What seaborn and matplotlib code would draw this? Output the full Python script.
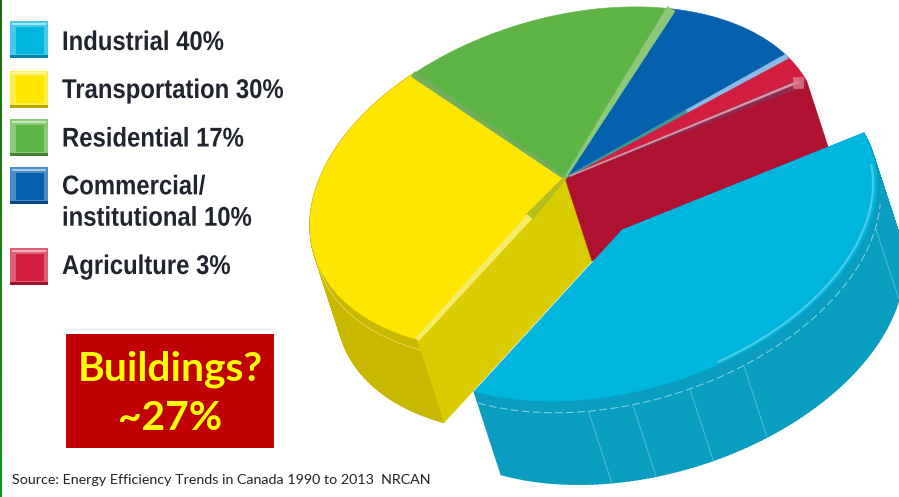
import numpy as np
import pandas as pd
import seaborn as sns
import matplotlib
matplotlib.use("Agg")
import matplotlib.pyplot as plt
from matplotlib.patches import Rectangle
from matplotlib.patheffects import AbstractPathEffect
from matplotlib.transforms import Affine2D

# Canada's secondary energy use by sector (per cent)
sectors = ["Agriculture", "Commercial/\ninstitutional", "Residential", "Transportation", "Industrial"]
shares = [3, 10, 17, 30, 40]
top_colors = ["#D21F3F", "#0561AD", "#5FB446", "#FFE600", "#00B5DE"]
legend_order = ["Industrial", "Transportation", "Residential", "Commercial/\ninstitutional", "Agriculture"]
legend_centers = [39.5, 89, 137.5, 185.5, 266.5]
legend_text_y = [43, 91, 139.5, 203, 267]
callout_lines = ["Buildings?", "~27%"]
source_note = "Source: Energy Efficiency Trends in Canada 1990 to 2013  NRCAN"
seam_angles = [251, 261, 274, 287, 338]

table = pd.DataFrame({"sector": sectors, "share": shares, "color": top_colors})
table["start"] = 8 + 3.6 * table["share"].cumsum().shift(fill_value=0)
table["end"] = table["start"] + 3.6 * table["share"]
table = table.set_index("sector")

sns.set_theme(style="white")
fig, ax = plt.subplots(figsize=(8.99, 4.97), dpi=100)
ax.set_position([0, 0, 1, 1])
ax.set_xlim(0, 899)
ax.set_ylim(497, 0)
ax.axis("off")

# Tilted disc used to project the pie
CENTER = np.array([565.0, 178.0])
SEMI_A, SEMI_B = 262.0, 160.0
TILT = np.radians(17)
DEPTH = np.array([27.0, 83.0])
EXPLODE = np.array([57.0, 52.0])


class SqueezeX(AbstractPathEffect):
    """Draws text narrower, keeping its left edge in place."""

    def __init__(self, left, factor):
        super().__init__()
        self.left, self.factor = left, factor

    def draw_path(self, renderer, gc, tpath, affine, rgbFace=None):
        squeeze = Affine2D().translate(-self.left, 0).scale(self.factor, 1).translate(self.left, 0)
        renderer.draw_path(gc, tpath, affine + squeeze, rgbFace)


def rim(theta, radius=1.0, origin=CENTER, drop=0.0):
    t = np.radians(np.atleast_1d(theta))
    x = radius * SEMI_A * np.cos(t)
    y = radius * SEMI_B * np.sin(t)
    px = origin[0] + x * np.cos(TILT) - y * np.sin(TILT) + drop * DEPTH[0]
    py = origin[1] - (x * np.sin(TILT) + y * np.cos(TILT)) + drop * DEPTH[1]
    return np.column_stack([px, py])


def arc(t0, t1, n=160, **kw):
    return rim(np.linspace(t0, t1, n), **kw)


def fill(points, color, z, alpha=None, lw=0.4):
    ax.fill(points[:, 0], points[:, 1], color=color, lw=lw, zorder=z, alpha=alpha)


def top_wedge(t0, t1, color, origin=CENTER, z=5):
    fill(np.vstack([origin, arc(t0, t1, origin=origin)]), color, z)


def side_band(t0, t1, color, origin=CENTER, z=2):
    # Swept quads, so the silhouette follows the tangent to the disc
    upper = arc(t0, t1, origin=origin)
    lower = arc(t0, t1, origin=origin, drop=1.0)
    for i in range(len(upper) - 1):
        fill(np.array([upper[i], upper[i + 1], lower[i + 1], lower[i]]), color, z, lw=1.2)


def cut_face(theta, color, origin=CENTER, z=3):
    a = rim(theta, origin=origin)[0]
    fill(np.array([origin, a, a + DEPTH, origin + DEPTH]), color, z)


def ribbon(theta, r0, r1, w0, w1, color, z=6, origin=CENTER):
    a, b = rim(theta, r0, origin)[0], rim(theta, r1, origin)[0]
    u = (b - a) / np.linalg.norm(b - a)
    n = np.array([-u[1], u[0]])
    fill(np.array([a + n * w0 / 2, b + n * w1 / 2, b - n * w1 / 2, a - n * w0 / 2]), color, z)


ag = table.loc["Agriculture"]
co = table.loc["Commercial/\ninstitutional"]
re = table.loc["Residential"]
tr = table.loc["Transportation"]
ind = table.loc["Industrial"]
cyan_origin = CENTER + EXPLODE

# Walls behind the top surfaces
side_band(tr["start"], tr["end"], "#C8B800")
cut_face(tr["end"], "#D9CC00")
cut_face(ag["start"], "#AF1230")

for name, row in table.iterrows():
    if name != "Industrial":
        top_wedge(row["start"], row["end"], row["color"])

# Bevel strips along the sector boundaries
ribbon(ag["start"], 0.02, 0.99, 1, 8, "#8E2A50", z=6)
ribbon(ag["start"] + 0.8, 0.02, 0.97, 1, 2, "#D99AA5", z=7)
tip = rim(ag["start"] + 0.8, 0.97)[0]
fill(tip + np.array([[-5, -5], [5, -5], [5, 6], [-5, 6]]), "#E8808F", 7, alpha=0.75)
ribbon(co["start"], 0.0, 0.55, 1, 3, "#3F9A9A")
ribbon(co["start"], 0.55, 1.0, 3, 5, "#8DB9E8")
ribbon(re["start"], 0.0, 1.0, 2, 9, "#8CC77A")
ribbon(tr["start"], 0.0, 1.0, 3, 6, "#72AE5E")
ribbon(tr["end"], 0.0, 0.24, 3, 8, "#B4BE1E")
ribbon(tr["end"], 0.24, 1.0, 6, 4, "#F7EC6A")

# Pulled-out industrial sector
side_band(ind["start"], ind["end"], "#0A9DBF", origin=cyan_origin, z=8)
cut_face(ind["end"], "#0A9DBF", origin=cyan_origin, z=8)
top_wedge(ind["start"], ind["end"], ind["color"], origin=cyan_origin, z=10)

rim_glow = arc(282, 356, radius=0.985, origin=cyan_origin)
ax.plot(rim_glow[:, 0], rim_glow[:, 1], color="#4CCBE8", lw=1.6, zorder=11)
stitch = arc(ind["start"], ind["end"] - 22, origin=cyan_origin, drop=0.14)
ax.plot(stitch[:, 0], stitch[:, 1], color="#7CCFE2", lw=0.8, ls=(0, (7, 3)), zorder=9)
yellow_stitch = arc(178, tr["end"], drop=0.13)
ax.plot(yellow_stitch[:, 0], yellow_stitch[:, 1], color="#E3D84E", lw=0.7, zorder=4)
for seam in seam_angles:
    a = rim(seam, origin=cyan_origin, drop=0.14)[0]
    b = rim(seam, origin=cyan_origin, drop=1.0)[0]
    ax.plot([a[0], b[0]], [a[1], b[1]], color="#55BBD4", lw=0.7, zorder=9)

# Bevelled legend swatches with their labels
labels = dict(zip(sectors, shares))
colors = dict(zip(sectors, top_colors))
for name, yc, ty in zip(legend_order, legend_centers, legend_text_y):
    c = np.array(matplotlib.colors.to_rgb(colors[name]))
    light = c + (1 - c) * 0.28
    dark = c * 0.72
    ax.add_patch(Rectangle((10, yc - 18.5), 38, 37, color=light, lw=0, zorder=3))
    ax.add_patch(Rectangle((10, yc + 15.5), 38, 3, color=dark, lw=0, zorder=4))
    ax.add_patch(Rectangle((12, yc - 17), 34, 2, color=c + (1 - c) * 0.65, lw=0, zorder=4))
    ax.add_patch(Rectangle((16, yc - 13), 28, 27, color=c, lw=0, zorder=5))
    ax.text(62, ty, f"{name} {labels[name]}%", family=["Liberation Sans", "DejaVu Sans"], weight="bold",
            fontsize=19.5, color="#20242E", va="center", ha="left", linespacing=1.27, zorder=6,
            path_effects=[SqueezeX(62, 0.882)])

# Callout box, source note and slide edge
ax.add_patch(Rectangle((66, 334), 208, 114, color="#C00000", lw=0, zorder=3))
for line, y in zip(callout_lines, [369, 418]):
    ax.text(170, y, line, family="Lato", weight="bold", fontsize=29.3, color="#FFFF00",
            ha="center", va="center", zorder=4)
ax.text(12, 480, source_note, family="Lato", fontsize=10.3, color="#222222", ha="left", va="center")
edge = sns.blend_palette(["#1F6B0F", "#0A9A12"], 25)
for i, shade in enumerate(edge):
    ax.add_patch(Rectangle((0, i * 497 / 25), 2, 497 / 25 + 0.5, color=shade, lw=0, zorder=12))

fig.savefig("out.png", dpi=100)
